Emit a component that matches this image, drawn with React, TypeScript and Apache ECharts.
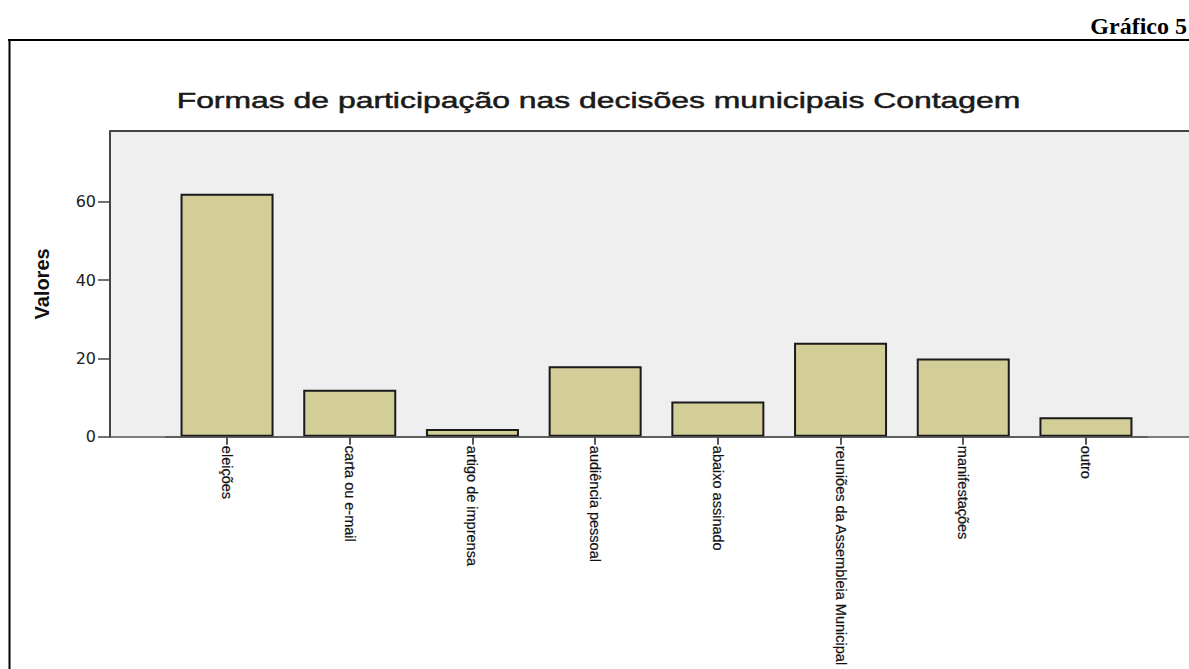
import React, { useEffect, useRef } from "react";
import * as echarts from "echarts";

const categories = [
  "eleições",
  "carta ou e-mail",
  "artigo de imprensa",
  "audiência pessoal",
  "abaixo assinado",
  "reuniões da Assembleia Municipal",
  "manifestações",
  "outro",
];
const values = [62, 12, 2, 18, 9, 24, 20, 5];
const yTicks = [0, 20, 40, 60];
const yMax = 78;
const chartTitle = "Formas de participação nas decisões municipais Contagem";
const yName = "Valores";
const pageLabel = "Gráfico 5";

export default function App() {
  const ref = useRef<HTMLDivElement>(null);
  useEffect(() => {
    if (!ref.current) return;
    const chart = echarts.init(ref.current, null, { renderer: "svg" });
    const plotLeft = 110;
    const plotTop = 131;
    const axisY = 437;
    const gridLeft = 165.7;
    const gridRight = 41.7;
    chart.setOption({
      animation: false,
      backgroundColor: "#ffffff",
      grid: {
        left: gridLeft,
        right: gridRight,
        top: plotTop,
        bottom: 669 - axisY,
        containLabel: false,
      },
      xAxis: {
        type: "category",
        data: categories,
        axisLine: { show: true, lineStyle: { color: "#555", width: 1.5 } },
        axisTick: {
          show: true,
          alignWithLabel: true,
          length: 8,
          lineStyle: { color: "#222", width: 1.5 },
        },
        axisLabel: {
          rotate: -90,
          interval: 0,
          margin: 9,
          fontSize: 14.5,
          fontFamily: "'Liberation Sans', Arial, sans-serif",
          color: "#111",
          textBorderColor: "#111",
          textBorderWidth: 0.2,
        },
        splitLine: { show: false },
      },
      yAxis: {
        type: "value",
        min: 0,
        max: yMax,
        offset: gridLeft - plotLeft,
        name: yName,
        nameLocation: "middle",
        nameRotate: 90,
        nameGap: 58,
        nameTextStyle: {
          fontSize: 20,
          fontWeight: "bold",
          fontFamily: "'Liberation Sans', Arial, sans-serif",
          color: "#111",
        },
        axisLine: { show: true, lineStyle: { color: "#444", width: 2 } },
        axisTick: {
          show: true,
          length: 12,
          customValues: yTicks,
          lineStyle: { color: "#444", width: 1.5 },
        },
        axisLabel: {
          customValues: yTicks,
          margin: 14,
          fontSize: 16,
          fontFamily: "'DejaVu Sans', sans-serif",
          color: "#222",
        },
        splitLine: { show: false },
      },
      series: [
        {
          type: "bar",
          data: values,
          barWidth: 93,
          itemStyle: {
            color: "#d3ce97",
            borderColor: "#1a1a1a",
            borderWidth: 2,
          },
        },
      ],
      graphic: [
        {
          type: "rect",
          z: -10,
          silent: true,
          shape: { x: plotLeft, y: plotTop, width: 1189 - plotLeft, height: axisY - plotTop },
          style: { fill: "#efefef" },
        },
        {
          type: "line",
          z: 100,
          silent: true,
          shape: { x1: plotLeft, y1: plotTop, x2: 1189, y2: plotTop },
          style: { stroke: "#444", lineWidth: 2 },
        },
        {
          type: "line",
          z: 100,
          silent: true,
          shape: { x1: plotLeft, y1: axisY, x2: 1189, y2: axisY },
          style: { stroke: "#555", lineWidth: 1.5 },
        },
        {
          type: "line",
          z: 100,
          silent: true,
          shape: { x1: 8, y1: 40, x2: 1189, y2: 40 },
          style: { stroke: "#000", lineWidth: 2 },
        },
        {
          type: "line",
          z: 100,
          silent: true,
          shape: { x1: 9.5, y1: 40, x2: 9.5, y2: 669 },
          style: { stroke: "#000", lineWidth: 2 },
        },
        {
          type: "text",
          z: 100,
          x: 598.5,
          y: 100.5,
          scaleX: 1.45,
          style: {
            text: chartTitle,
            align: "center",
            verticalAlign: "middle",
            fontSize: 22,
            fontFamily: "'Liberation Sans', Arial, sans-serif",
            fill: "#1a1a1a",
            stroke: "#1a1a1a",
            lineWidth: 0.5,
          },
        },
        {
          type: "text",
          z: 100,
          x: 1187,
          y: 26,
          style: {
            text: pageLabel,
            align: "right",
            verticalAlign: "middle",
            fontSize: 24,
            fontWeight: "bold",
            fontFamily: "'Liberation Serif', 'Times New Roman', serif",
            fill: "#000",
          },
        },
      ],
    });
    return () => chart.dispose();
  }, []);
  return (
    <div
      ref={ref}
      style={{ position: "absolute", left: 0, top: 0, width: 1189, height: 669, background: "#fff" }}
    />
  );
}
